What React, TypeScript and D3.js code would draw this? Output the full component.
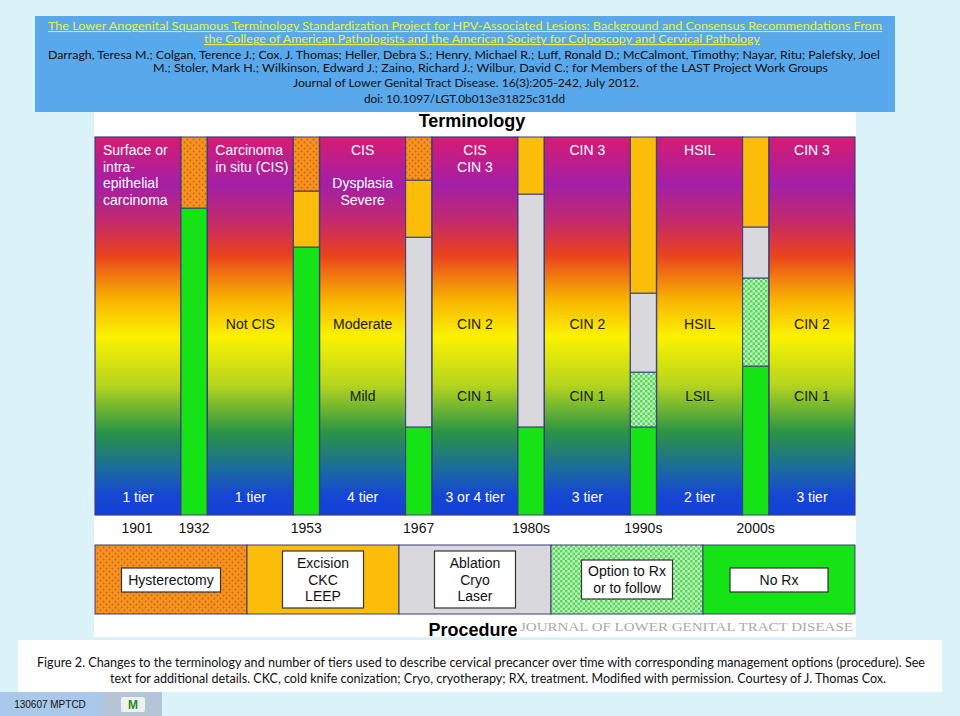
import React from "react";
import * as d3 from "d3";

const W = 960;
const H = 716;

// ---------- data ----------
const yearLabels = ["1901", "1932", "1953", "1967", "1980s", "1990s", "2000s"];
const topLabels: string[][] = [
  ["Surface or", "intra-", "epithelial", "carcinoma"],
  ["Carcinoma", "in situ (CIS)"],
  ["CIS", "", "Dysplasia", "Severe"],
  ["CIS", "CIN 3"],
  ["CIN 3"],
  ["HSIL"],
  ["CIN 3"],
];
const topAlignLeft = [true, true, false, false, false, false, false];
const highLabels = ["", "Not CIS", "Moderate", "CIN 2", "CIN 2", "HSIL", "CIN 2"];
const lowLabels = ["", "", "Mild", "CIN 1", "CIN 1", "LSIL", "CIN 1"];
const tierLabels = ["1 tier", "1 tier", "4 tier", "3 or 4 tier", "3 tier", "2 tier", "3 tier"];

// treatment keys, stacked bottom-up
const treatments = ["noRx", "option", "ablation", "excision", "hysterectomy"];
// stacked heights (severity scale 0-100) for the six era-transition bars
const noRx = [81.2, 70.9, 23.3, 23.3, 23.3, 39.4];
const option = [0, 0, 0, 0, 14.5, 23.3];
const ablation = [0, 0, 50.2, 61.6, 20.9, 13.5];
const excision = [0, 14.8, 15.1, 15.1, 41.3, 23.8];
const hysterectomy = [18.8, 14.3, 11.4, 0, 0, 0];

const procedureKeys = ["hysterectomy", "excision", "ablation", "option", "noRx"];
const procedureLabels: string[][] = [
  ["Hysterectomy"],
  ["Excision", "CKC", "LEEP"],
  ["Ablation", "Cryo", "Laser"],
  ["Option to Rx", "or to follow"],
  ["No Rx"],
];
const procedureBoxW = [99, 81, 81, 91, 98];

const headerLines = [
  "The Lower Anogenital Squamous Terminology Standardization Project for HPV-Associated Lesions:  Background and Consensus Recommendations From",
  "the College of American Pathologists and the American Society for Colposcopy and Cervical Pathology",
  "Darragh, Teresa M.; Colgan, Terence J.; Cox, J. Thomas; Heller, Debra S.; Henry, Michael R.; Luff, Ronald D.; McCalmont, Timothy; Nayar, Ritu; Palefsky, Joel",
  "M.; Stoler, Mark H.; Wilkinson, Edward J.; Zaino, Richard J.; Wilbur, David C.; for Members of the LAST Project Work Groups",
  "Journal of Lower Genital Tract Disease. 16(3):205-242, July 2012.",
  "doi: 10.1097/LGT.0b013e31825c31dd",
];
const captionLines = [
  "Figure 2. Changes to the terminology and number of tiers used to describe cervical precancer over time with corresponding management options (procedure). See",
  "text for additional details. CKC, cold knife conization; Cryo, cryotherapy; RX, treatment. Modified with permission. Courtesy of J. Thomas Cox.",
];

// ---------- styles ----------
const fills: Record<string, string> = {
  noRx: "#16e316",
  option: "url(#checkPat)",
  ablation: "#d9d9dd",
  excision: "#fbbd0a",
  hysterectomy: "url(#dotPat)",
};
const ARIAL = "'Liberation Sans', Arial, sans-serif";
const CAL = "Lato, 'Open Sans', sans-serif";
const BORDER = "#3a3d7a";

export default function App() {
  const colX = d3.scaleLinear().domain([0, 6]).range([95, 769]);
  const colW = 86;
  const barW = 26;
  const y = d3.scaleLinear().domain([0, 100]).range([515, 137]);

  const rows = noRx.map((_, i) => ({
    noRx: noRx[i],
    option: option[i],
    ablation: ablation[i],
    excision: excision[i],
    hysterectomy: hysterectomy[i],
  }));
  const stacked = d3.stack<any>().keys(treatments)(rows);

  const procX = d3.scaleBand<string>().domain(procedureKeys).range([95, 855]).padding(0);

  const gradStops: [number, string][] = [
    [137, "#d61c72"],
    [185, "#a31fa6"],
    [222, "#c42a6a"],
    [255, "#e9421e"],
    [300, "#f8b400"],
    [337, "#faf300"],
    [385, "#b5d51e"],
    [432, "#2a9445"],
    [470, "#1a6aa0"],
    [495, "#1646d2"],
    [515, "#1440d8"],
  ];

  const headerPos = [
    { x0: 48, x1: 882, y: 30, color: "#ecf03a", u: true },
    { x0: 204, x1: 760, y: 43, color: "#ecf03a", u: true },
    { x0: 48, x1: 880, y: 59, color: "#111", u: false },
    { x0: 153, x1: 828, y: 72, color: "#111", u: false },
    { x0: 293, x1: 639, y: 87, color: "#111", u: false },
    { x0: 364, x1: 565, y: 103, color: "#111", u: false },
  ];

  return (
    <svg
      width={W}
      height={H}
      viewBox={`0 0 ${W} ${H}`}
      style={{ position: "absolute", left: 0, top: 0, display: "block" }}
    >
      <defs>
        <linearGradient id="sevGrad" gradientUnits="userSpaceOnUse" x1="0" x2="0" y1="137" y2="515">
          {gradStops.map(([yy, c], i) => (
            <stop key={i} offset={(yy - 137) / 378} stopColor={c} />
          ))}
        </linearGradient>
        <pattern id="dotPat" patternUnits="userSpaceOnUse" width="6" height="6">
          <rect width="6" height="6" fill="#f7921c" />
          <circle cx="1.5" cy="1.5" r="0.9" fill="#c8641a" />
          <circle cx="4.5" cy="4.5" r="0.9" fill="#c8641a" />
        </pattern>
        <pattern id="checkPat" patternUnits="userSpaceOnUse" width="5" height="5">
          <rect width="5" height="5" fill="#c4f2c4" />
          <rect width="2.5" height="2.5" fill="#52dc52" />
          <rect x="2.5" y="2.5" width="2.5" height="2.5" fill="#52dc52" />
        </pattern>
      </defs>

      {/* page background */}
      <rect x={0} y={0} width={W} height={H} fill="#dbf3f8" />

      {/* white image area */}
      <rect x={94} y={112} width={762} height={525} fill="#ffffff" />

      {/* header box */}
      <rect x={35} y={16} width={860} height={96} fill="#5aa8ec" />
      {headerLines.map((t, i) => (
        <text
          key={i}
          x={headerPos[i].x0}
          y={headerPos[i].y}
          fontFamily={CAL}
          fontSize={11}
          fill={headerPos[i].color}
          textLength={headerPos[i].x1 - headerPos[i].x0}
          lengthAdjust="spacingAndGlyphs"
          textDecoration={headerPos[i].u ? "underline" : undefined}
        >
          {t}
        </text>
      ))}

      {/* Terminology title */}
      <text x={472} y={127} textAnchor="middle" fontFamily={ARIAL} fontWeight="bold" fontSize={18} fill="#000">
        Terminology
      </text>

      {/* gradient columns */}
      {yearLabels.map((_, i) => (
        <rect
          key={"col" + i}
          x={colX(i)}
          y={y(100)}
          width={colW}
          height={y(0) - y(100)}
          fill="url(#sevGrad)"
          stroke={BORDER}
          strokeWidth={1.2}
        />
      ))}

      {/* stacked treatment bars */}
      {stacked.map((layer) =>
        layer.map((d, i) =>
          d[1] - d[0] > 0 ? (
            <rect
              key={layer.key + i}
              x={colX(i) + colW}
              y={y(d[1])}
              width={barW}
              height={y(d[0]) - y(d[1])}
              fill={fills[layer.key]}
              stroke={BORDER}
              strokeWidth={1}
            />
          ) : null
        )
      )}

      {/* top labels */}
      {topLabels.map((lines, i) =>
        lines.map((t, j) => (
          <text
            key={"tl" + i + j}
            x={topAlignLeft[i] ? colX(i) + 8 : colX(i) + colW / 2}
            y={155 + j * 16.5}
            textAnchor={topAlignLeft[i] ? "start" : "middle"}
            fontFamily={ARIAL}
            fontSize={14}
            fill="#ffffff"
          >
            {t}
          </text>
        ))
      )}
      {highLabels.map((t, i) => (
        <text key={"hl" + i} x={colX(i) + colW / 2} y={y(50.5) + 5} textAnchor="middle" fontFamily={ARIAL} fontSize={14} fill="#1a1a1a">
          {t}
        </text>
      ))}
      {lowLabels.map((t, i) => (
        <text key={"ll" + i} x={colX(i) + colW / 2} y={y(31.5) + 5} textAnchor="middle" fontFamily={ARIAL} fontSize={14} fill="#1a1a1a">
          {t}
        </text>
      ))}
      {tierLabels.map((t, i) => (
        <text key={"tr" + i} x={colX(i) + colW / 2} y={y(4.8) + 5} textAnchor="middle" fontFamily={ARIAL} fontSize={14} fill="#ffffff">
          {t}
        </text>
      ))}

      {/* year labels */}
      {yearLabels.map((t, i) => (
        <text
          key={"yr" + i}
          x={i === 0 ? colX(0) + 42 : colX(i - 1) + colW + barW / 2}
          y={533}
          textAnchor="middle"
          fontFamily={ARIAL}
          fontSize={14}
          fill="#111"
        >
          {t}
        </text>
      ))}

      {/* procedure band */}
      {procedureKeys.map((k) => (
        <rect
          key={"pb" + k}
          x={procX(k)!}
          y={545}
          width={procX.bandwidth()}
          height={69}
          fill={fills[k]}
          stroke={BORDER}
          strokeWidth={1}
        />
      ))}
      {procedureKeys.map((k, i) => {
        const lines = procedureLabels[i];
        const lh = 16.5;
        const bh = lines.length === 1 ? 24 : lines.length === 2 ? 39 : 57;
        const cx = procX(k)! + procX.bandwidth() / 2;
        const top = lines.length === 2 ? 560 : lines.length === 3 ? 551 : 568;
        return (
          <g key={"box" + k}>
            <rect
              x={cx - procedureBoxW[i] / 2}
              y={top}
              width={procedureBoxW[i]}
              height={bh}
              fill="#ffffff"
              stroke="#333"
              strokeWidth={1.2}
            />
            {lines.map((t, j) => (
              <text
                key={j}
                x={cx}
                y={top + bh / 2 + (j - (lines.length - 1) / 2) * lh + 5}
                textAnchor="middle"
                fontFamily={ARIAL}
                fontSize={14}
                fill="#111"
              >
                {t}
              </text>
            ))}
          </g>
        );
      })}

      {/* Procedure title and watermark */}
      <text x={473} y={636} textAnchor="middle" fontFamily={ARIAL} fontWeight="bold" fontSize={18} fill="#000">
        Procedure
      </text>
      <text
        x={520}
        y={631}
        fontFamily="'Liberation Serif', 'DejaVu Serif', serif"
        fontSize={13}
        fill="#aaaaaa"
        textLength={333}
        lengthAdjust="spacingAndGlyphs"
      >
        JOURNAL OF LOWER GENITAL TRACT DISEASE
      </text>

      {/* caption */}
      <rect x={18} y={640} width={924} height={52} fill="#ffffff" />
      <text x={37} y={667} fontFamily={CAL} fontSize={12.5} fill="#111" textLength={888} lengthAdjust="spacingAndGlyphs">
        {captionLines[0]}
      </text>
      <text x={110} y={683} fontFamily={CAL} fontSize={12.5} fill="#111" textLength={776} lengthAdjust="spacingAndGlyphs">
        {captionLines[1]}
      </text>

      {/* footer */}
      <rect x={0} y={692} width={101} height={24} fill="#a9c8ea" />
      <text x={50} y={708} textAnchor="middle" fontFamily={ARIAL} fontSize={10} fill="#111">
        130607 MPTCD
      </text>
      <rect x={101} y={692} width={61} height={24} fill="#b5c4d6" />
      <rect x={121} y={697} width={24} height={15} rx={2} fill="#eef2ee" />
      <text x={133} y={709} textAnchor="middle" fontFamily={ARIAL} fontWeight="bold" fontSize={12} fill="#2a8a2a">
        M
      </text>
    </svg>
  );
}
